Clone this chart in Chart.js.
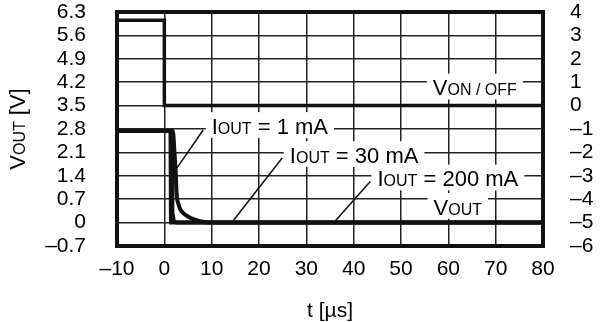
<!DOCTYPE html>
<html><head><meta charset="utf-8">
<script src="https://cdn.jsdelivr.net/npm/chart.js@4/dist/chart.umd.min.js"></script>
<style>html,body{margin:0;padding:0;background:#fff}#wrap{width:602px;height:322px}</style>
</head><body><div id="wrap"><canvas id="c" width="602" height="322"></canvas></div>
<script>
// time axis in µs, VOUT in V (left), VON/OFF in V (right)
const tVon=[-10,0,0,80];
const vVon=[3.65,3.65,0,0];
const t200=[-10,1.3,1.4,80];
const v200=[2.74,2.74,0,0];
const t30=[-10,1.6,1.7,2.0,2.5,80];
const v30=[2.74,2.74,0.3,0.05,0,0];
const t1=[-10,1.8,2.1,2.4,2.6,3.0,3.3,4,5,6,7.1,8.5,10,80];
const v1=[2.74,2.74,2.2,1.5,0.85,0.55,0.42,0.28,0.18,0.11,0.06,0.02,0,0];
const xTicks=[-10,0,10,20,30,40,50,60,70,80];
const yLeftTicks=[-0.7,0,0.7,1.4,2.1,2.8,3.5,4.2,4.9,5.6,6.3];
const yRightTicks=[-6,-5,-4,-3,-2,-1,0,1,2,3,4];

const FONT='"Liberation Sans", Arial, sans-serif';
const dash=s=>String(s).replace('-','\u2013');
const pts=(xs,ys)=>xs.map((x,i)=>({x,y:ys[i]}));

const notes=[
  {parts:[['V',22],['ON / OFF',16]],t:65.6,v:4.04},
  {parts:[['I',22],['OUT',16],[' = 1 mA',22]],t:22.3,v:2.89,lead:[[8.2,2.77],[2.5,1.6]]},
  {parts:[['I',22],['OUT',16],[' = 30 mA',22]],t:40.1,v:2.02,lead:[[24.9,1.93],[14.5,0.05]]},
  {parts:[['I',22],['OUT',16],[' = 200 mA',22]],t:59.9,v:1.32,lead:[[43.5,1.23],[36.1,0.05]]},
  {parts:[['V',22],['OUT',16]],t:62,v:0.47}
];

function drawParts(ctx,parts,x,y){
  parts.forEach(([s,sz])=>{ctx.font=sz+'px '+FONT;ctx.fillText(s,x,y);x+=ctx.measureText(s).width;});
}
function partsWidth(ctx,parts){
  let w=0;parts.forEach(([s,sz])=>{ctx.font=sz+'px '+FONT;w+=ctx.measureText(s).width;});return w;
}

const decor={
  id:'decor',
  afterDatasetsDraw(chart){
    const {ctx,chartArea:a,scales:{x,y}}=chart;
    ctx.save();
    ctx.strokeStyle='#111';ctx.lineWidth=4;
    ctx.strokeRect(a.left,a.top,a.right-a.left,a.bottom-a.top);
    ctx.lineWidth=1.5;
    notes.forEach(n=>{
      if(!n.lead)return;
      ctx.beginPath();
      ctx.moveTo(x.getPixelForValue(n.lead[0][0]),y.getPixelForValue(n.lead[0][1]));
      ctx.lineTo(x.getPixelForValue(n.lead[1][0]),y.getPixelForValue(n.lead[1][1]));
      ctx.stroke();
    });
    ctx.textBaseline='alphabetic';ctx.textAlign='left';
    notes.forEach(n=>{
      const w=partsWidth(ctx,n.parts);
      const cx=x.getPixelForValue(n.t),cy=y.getPixelForValue(n.v);
      const cap=22*0.716;
      const base=cy+cap/2,left=cx-w/2;
      ctx.fillStyle='#fff';
      ctx.fillRect(left-6,base-cap-6,w+12,cap+10);
      ctx.fillStyle='#000';
      drawParts(ctx,n.parts,left,base);
    });
    // y axis title
    ctx.translate(25,(a.top+a.bottom)/2);
    ctx.rotate(-Math.PI/2);
    const tp=[['V',22],['OUT',16],[' [V]',22]];
    drawParts(ctx,tp,-partsWidth(ctx,tp)/2,0);
    ctx.restore();
  }
};

const fixV=w=>s=>{s.width=w;s.paddingTop=0;s.paddingBottom=0;};
const line={pointRadius:0,borderColor:'#111',fill:false};
new Chart(document.getElementById('c'),{
  type:'line',
  data:{datasets:[
    {...line,label:'VON/OFF',data:pts(tVon,vVon),yAxisID:'y1',borderWidth:3.5},
    {...line,label:'1 mA',data:pts(t1,v1),yAxisID:'y',borderWidth:4,cubicInterpolationMode:'monotone'},
    {...line,label:'30 mA',data:pts(t30,v30),yAxisID:'y',borderWidth:4},
    {...line,label:'200 mA',data:pts(t200,v200),yAxisID:'y',borderWidth:4}
  ]},
  options:{
    responsive:false,animation:false,devicePixelRatio:1,
    layout:{padding:{top:12,left:0,right:0,bottom:0}},
    plugins:{legend:{display:false},tooltip:{enabled:false}},
    scales:{
      x:{type:'linear',min:-10,max:80,
        afterBuildTicks:s=>{s.ticks=xTicks.map(v=>({value:v}));},
        afterFit:s=>{s.height=76;s.paddingLeft=0;s.paddingRight=0;},
        grid:{color:'#222',lineWidth:1.5,drawTicks:false},border:{display:false},
        ticks:{color:'#000',font:{family:FONT,size:21},padding:11,maxRotation:0,autoSkip:false,callback:v=>dash(v)},
        title:{display:true,text:'t [µs]',color:'#000',font:{family:FONT,size:21},padding:{top:0,bottom:-2}}},
      y:{type:'linear',position:'left',min:-0.7,max:6.3,
        afterBuildTicks:s=>{s.ticks=yLeftTicks.map(v=>({value:v}));},
        afterFit:fixV(117),
        grid:{color:'#222',lineWidth:1.5,drawTicks:false},border:{display:false},
        ticks:{color:'#000',font:{family:FONT,size:21},padding:31,autoSkip:false,callback:v=>v===0?'0':dash(v.toFixed(1))}},
      y1:{type:'linear',position:'right',min:-6,max:4,
        afterBuildTicks:s=>{s.ticks=yRightTicks.map(v=>({value:v}));},
        afterFit:fixV(59),
        grid:{display:false,drawTicks:false},border:{display:false},
        ticks:{color:'#000',font:{family:FONT,size:21},padding:27,autoSkip:false,callback:v=>dash(v)}}
    }
  },
  plugins:[decor]
});
</script></body></html>
